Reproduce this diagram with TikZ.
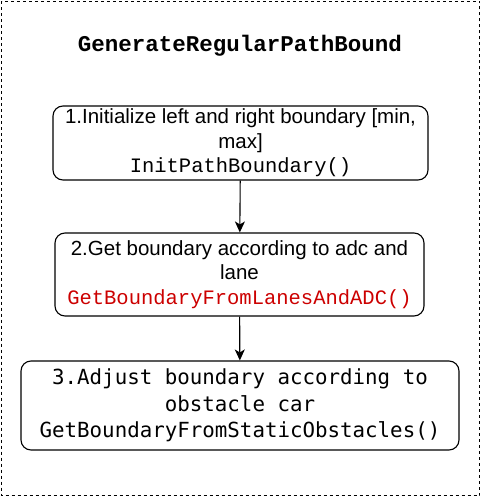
\documentclass[tikz,border=0pt]{standalone}
\usepackage{fontspec}
\setmainfont{Liberation Sans}
\newfontfamily\cour{Liberation Mono}
\newfontfamily\menlo{DejaVu Sans Mono}
\usetikzlibrary{arrows.meta}
\definecolor{redcode}{RGB}{204,0,0}
\tikzset{
  x=1pt,y=-1pt,
  stepbox/.style={draw,line width=1.1pt,rounded corners=10pt,align=center,inner sep=0pt,
    font=\fontsize{20.5}{24.5}\selectfont},
  conn/.style={draw,line width=1.1pt,-{Stealth[length=11pt,width=10pt,inset=3pt]}}
}
\begin{document}
\begin{tikzpicture}
\useasboundingbox (0,0) rectangle (482,497);
\draw[line width=1pt,dash pattern=on 3pt off 3pt] (1.5,1.5) rectangle (479.5,495.5);
\node (title) at (240,46) {\cour\bfseries\fontsize{22.5}{26}\selectfont GenerateRegularPathBound};
\node[stepbox,minimum width=375pt,minimum height=74pt] (s1) at (240.5,143)
  {1.Initialize left and right boundary [min,\\max]\\{\cour InitPathBoundary()}};
\node[stepbox,minimum width=369pt,minimum height=83pt] (s2) at (239.5,274.5)
  {2.Get boundary according to adc and\\lane\\{\cour\color{redcode}GetBoundaryFromLanesAndADC()}};
\node[stepbox,minimum width=438pt,minimum height=89pt,font=\menlo\fontsize{20.8}{26.5}\selectfont] (s3) at (240,405.5)
  {3.Adjust boundary according to\\obstacle car\\GetBoundaryFromStaticObstacles()};
\draw[conn] (s1) -- (s2);
\draw[conn] (s2) -- (s3);
\end{tikzpicture}
\end{document}
